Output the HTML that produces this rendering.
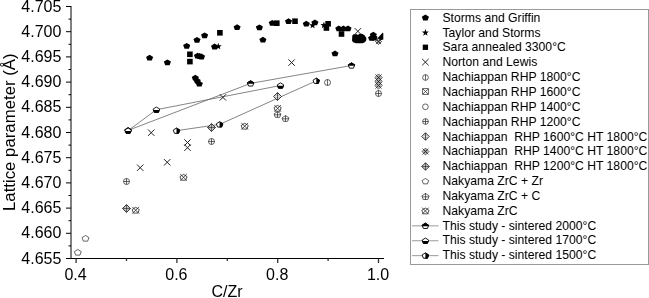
<!DOCTYPE html>
<html><head><meta charset="utf-8"><style>
html,body{margin:0;padding:0;background:#fff;}
svg{display:block;font-family:"Liberation Sans", sans-serif;filter:grayscale(1);}
</style></head><body>
<svg width="649" height="298" viewBox="0 0 649 298">
<path d="M71,6V258" stroke="#000" stroke-width="1" fill="none"/><path d="M66,258.5H384" stroke="#000" stroke-width="1" fill="none"/><path d="M66,6.50H71" stroke="#000" stroke-width="1"/><path d="M68.5,19.10H71" stroke="#000" stroke-width="1"/><path d="M66,31.70H71" stroke="#000" stroke-width="1"/><path d="M68.5,44.30H71" stroke="#000" stroke-width="1"/><path d="M66,56.90H71" stroke="#000" stroke-width="1"/><path d="M68.5,69.50H71" stroke="#000" stroke-width="1"/><path d="M66,82.10H71" stroke="#000" stroke-width="1"/><path d="M68.5,94.70H71" stroke="#000" stroke-width="1"/><path d="M66,107.30H71" stroke="#000" stroke-width="1"/><path d="M68.5,119.90H71" stroke="#000" stroke-width="1"/><path d="M66,132.50H71" stroke="#000" stroke-width="1"/><path d="M68.5,145.10H71" stroke="#000" stroke-width="1"/><path d="M66,157.70H71" stroke="#000" stroke-width="1"/><path d="M68.5,170.30H71" stroke="#000" stroke-width="1"/><path d="M66,182.90H71" stroke="#000" stroke-width="1"/><path d="M68.5,195.50H71" stroke="#000" stroke-width="1"/><path d="M66,208.10H71" stroke="#000" stroke-width="1"/><path d="M68.5,220.70H71" stroke="#000" stroke-width="1"/><path d="M66,233.30H71" stroke="#000" stroke-width="1"/><path d="M68.5,245.90H71" stroke="#000" stroke-width="1"/><path d="M66,258.50H71" stroke="#000" stroke-width="1"/><text x="61.4" y="11.50" text-anchor="end" font-size="16">4.705</text><text x="61.4" y="36.70" text-anchor="end" font-size="16">4.700</text><text x="61.4" y="61.90" text-anchor="end" font-size="16">4.695</text><text x="61.4" y="87.10" text-anchor="end" font-size="16">4.690</text><text x="61.4" y="112.30" text-anchor="end" font-size="16">4.685</text><text x="61.4" y="137.50" text-anchor="end" font-size="16">4.680</text><text x="61.4" y="162.70" text-anchor="end" font-size="16">4.675</text><text x="61.4" y="187.90" text-anchor="end" font-size="16">4.670</text><text x="61.4" y="213.10" text-anchor="end" font-size="16">4.665</text><text x="61.4" y="238.30" text-anchor="end" font-size="16">4.660</text><text x="61.4" y="263.50" text-anchor="end" font-size="16">4.655</text><path d="M76.10,258.5V263" stroke="#333" stroke-width="1.3"/><text x="75.60" y="279.5" text-anchor="middle" font-size="16">0.4</text><path d="M126.50,258.5V261" stroke="#333" stroke-width="1.3"/><path d="M176.90,258.5V263" stroke="#333" stroke-width="1.3"/><text x="176.40" y="279.5" text-anchor="middle" font-size="16">0.6</text><path d="M227.30,258.5V261" stroke="#333" stroke-width="1.3"/><path d="M277.70,258.5V263" stroke="#333" stroke-width="1.3"/><text x="277.20" y="279.5" text-anchor="middle" font-size="16">0.8</text><path d="M328.10,258.5V261" stroke="#333" stroke-width="1.3"/><path d="M378.50,258.5V263" stroke="#333" stroke-width="1.3"/><text x="378.00" y="279.5" text-anchor="middle" font-size="16">1.0</text><text x="227" y="297" text-anchor="middle" font-size="16">C/Zr</text><text transform="translate(14.6,132.2) rotate(-90)" text-anchor="middle" font-size="16.8">Lattice parameter (Å)</text><path d="M128.10,130.40L250.60,83.40L351.50,65.50" stroke="#666" stroke-width="0.8" fill="none"/><path d="M128.10,130.60L156.40,109.70L280.50,85.50" stroke="#666" stroke-width="0.8" fill="none"/><path d="M176.50,130.70L219.60,124.40L316.30,80.80" stroke="#666" stroke-width="0.8" fill="none"/><polygon points="377.2,38.6 382.6,32.8 383.3,33 383.3,39.4 380,40.5" fill="#000"/><polygon points="149.60,54.69 153.16,56.91 151.80,60.51 147.40,60.51 146.04,56.91" fill="#000"/><polygon points="167.40,59.39 170.96,61.61 169.60,65.21 165.20,65.21 163.84,61.61" fill="#000"/><polygon points="186.70,42.89 190.26,45.11 188.90,48.71 184.50,48.71 183.14,45.11" fill="#000"/><polygon points="197.00,36.89 200.56,39.11 199.20,42.71 194.80,42.71 193.44,39.11" fill="#000"/><polygon points="204.60,32.39 208.16,34.61 206.80,38.21 202.40,38.21 201.04,34.61" fill="#000"/><polygon points="197.50,52.69 201.06,54.91 199.70,58.51 195.30,58.51 193.94,54.91" fill="#000"/><polygon points="199.50,53.09 203.06,55.31 201.70,58.91 197.30,58.91 195.94,55.31" fill="#000"/><polygon points="201.50,53.59 205.06,55.81 203.70,59.41 199.30,59.41 197.94,55.81" fill="#000"/><polygon points="195.30,74.69 198.86,76.91 197.50,80.51 193.10,80.51 191.74,76.91" fill="#000"/><polygon points="197.20,77.69 200.76,79.91 199.40,83.51 195.00,83.51 193.64,79.91" fill="#000"/><polygon points="199.30,80.69 202.86,82.91 201.50,86.51 197.10,86.51 195.74,82.91" fill="#000"/><polygon points="214.60,43.59 218.16,45.81 216.80,49.41 212.40,49.41 211.04,45.81" fill="#000"/><polygon points="237.10,24.29 240.66,26.51 239.30,30.11 234.90,30.11 233.54,26.51" fill="#000"/><polygon points="259.40,24.39 262.96,26.61 261.60,30.21 257.20,30.21 255.84,26.61" fill="#000"/><polygon points="262.90,36.69 266.46,38.91 265.10,42.51 260.70,42.51 259.34,38.91" fill="#000"/><polygon points="272.30,19.89 275.86,22.11 274.50,25.71 270.10,25.71 268.74,22.11" fill="#000"/><polygon points="288.50,18.29 292.06,20.51 290.70,24.11 286.30,24.11 284.94,20.51" fill="#000"/><polygon points="306.30,20.69 309.86,22.91 308.50,26.51 304.10,26.51 302.74,22.91" fill="#000"/><polygon points="314.90,19.49 318.46,21.71 317.10,25.31 312.70,25.31 311.34,21.71" fill="#000"/><polygon points="335.00,50.49 338.56,52.71 337.20,56.31 332.80,56.31 331.44,52.71" fill="#000"/><polygon points="338.80,25.49 342.36,27.71 341.00,31.31 336.60,31.31 335.24,27.71" fill="#000"/><polygon points="343.40,25.49 346.96,27.71 345.60,31.31 341.20,31.31 339.84,27.71" fill="#000"/><polygon points="348.00,25.49 351.56,27.71 350.20,31.31 345.80,31.31 344.44,27.71" fill="#000"/><polygon points="373.30,31.69 376.86,33.91 375.50,37.51 371.10,37.51 369.74,33.91" fill="#000"/><polygon points="371.60,34.99 375.16,37.21 373.80,40.81 369.40,40.81 368.04,37.21" fill="#000"/><polygon points="374.00,34.59 377.56,36.81 376.20,40.41 371.80,40.41 370.44,36.81" fill="#000"/><polygon points="218.30,42.84 219.18,45.23 221.72,45.33 219.73,46.91 220.42,49.36 218.30,47.94 216.18,49.36 216.87,46.91 214.88,45.33 217.42,45.23" fill="#000"/><polygon points="312.60,21.84 313.48,24.23 316.02,24.33 314.03,25.91 314.72,28.36 312.60,26.94 310.48,28.36 311.17,25.91 309.18,24.33 311.72,24.23" fill="#000"/><polygon points="323.90,21.64 324.78,24.03 327.32,24.13 325.33,25.71 326.02,28.16 323.90,26.74 321.78,28.16 322.47,25.71 320.48,24.13 323.02,24.03" fill="#000"/><rect x="187.10" y="51.50" width="5.60" height="5.60" fill="#000"/><rect x="187.10" y="58.80" width="5.60" height="5.60" fill="#000"/><rect x="217.10" y="30.00" width="5.60" height="5.60" fill="#000"/><rect x="274.00" y="20.40" width="5.60" height="5.60" fill="#000"/><rect x="292.20" y="18.40" width="5.60" height="5.60" fill="#000"/><rect x="325.30" y="21.00" width="5.60" height="5.60" fill="#000"/><rect x="323.60" y="25.20" width="5.60" height="5.60" fill="#000"/><rect x="338.70" y="31.20" width="5.60" height="5.60" fill="#000"/><path d="M148.00,129.50L154.40,135.90M154.40,129.50L148.00,135.90" stroke="#222" stroke-width="1.0" fill="none"/><path d="M137.00,164.50L143.40,170.90M143.40,164.50L137.00,170.90" stroke="#222" stroke-width="1.0" fill="none"/><path d="M164.00,159.10L170.40,165.50M170.40,159.10L164.00,165.50" stroke="#222" stroke-width="1.0" fill="none"/><path d="M184.30,139.30L190.70,145.70M190.70,139.30L184.30,145.70" stroke="#222" stroke-width="1.0" fill="none"/><path d="M184.30,144.50L190.70,150.90M190.70,144.50L184.30,150.90" stroke="#222" stroke-width="1.0" fill="none"/><path d="M219.70,94.20L226.10,100.60M226.10,94.20L219.70,100.60" stroke="#222" stroke-width="1.0" fill="none"/><path d="M288.40,59.40L294.80,65.80M294.80,59.40L288.40,65.80" stroke="#222" stroke-width="1.0" fill="none"/><path d="M354.70,28.10L361.10,34.50M361.10,28.10L354.70,34.50" stroke="#222" stroke-width="1.0" fill="none"/><polygon points="352.3,35.5 353.5,34.2 357,34.2 358,35 359,34 362,33.8 364.5,35.3 366.4,38 366.2,40.6 364.8,42.2 362.5,43.3 356,43.3 353,42.2 352,40.5" fill="#000"/><circle cx="327.50" cy="82.50" r="3.00" fill="#fff" stroke="#222" stroke-width="0.7"/><path d="M327.50,79.50V85.50" stroke="#222" stroke-width="0.7"/><circle cx="126.50" cy="181.50" r="3.00" fill="#fff" stroke="#222" stroke-width="0.7"/><path d="M126.50,178.50V184.50M123.50,181.50H129.50" stroke="#222" stroke-width="0.7"/><circle cx="211.50" cy="141.50" r="3.00" fill="#fff" stroke="#222" stroke-width="0.7"/><path d="M211.50,138.50V144.50M208.50,141.50H214.50" stroke="#222" stroke-width="0.7"/><circle cx="378.50" cy="93.50" r="3.00" fill="#fff" stroke="#222" stroke-width="0.7"/><path d="M378.50,90.50V96.50M375.50,93.50H381.50" stroke="#222" stroke-width="0.7"/><polygon points="277.50,92.60 281.40,96.50 277.50,100.40 273.60,96.50" fill="#fff" stroke="#111" stroke-width="0.9"/><path d="M277.50,92.60V100.40" stroke="#222" stroke-width="0.8"/><circle cx="277.50" cy="96.50" r="1.75" fill="none" stroke="#666" stroke-width="0.5"/><polygon points="378.50,73.90 382.10,77.50 378.50,81.10 374.90,77.50" fill="#fff" stroke="#222" stroke-width="0.8"/><path d="M375.44,74.44L381.56,80.56M381.56,74.44L375.44,80.56" stroke="#222" stroke-width="0.8"/><circle cx="378.50" cy="77.50" r="1.50" fill="none" stroke="#222" stroke-width="0.8"/><polygon points="378.50,77.90 382.10,81.50 378.50,85.10 374.90,81.50" fill="#fff" stroke="#222" stroke-width="0.8"/><path d="M375.44,78.44L381.56,84.56M381.56,78.44L375.44,84.56" stroke="#222" stroke-width="0.8"/><circle cx="378.50" cy="81.50" r="1.50" fill="none" stroke="#222" stroke-width="0.8"/><polygon points="378.50,81.90 382.10,85.50 378.50,89.10 374.90,85.50" fill="#fff" stroke="#222" stroke-width="0.8"/><path d="M375.44,82.44L381.56,88.56M381.56,82.44L375.44,88.56" stroke="#222" stroke-width="0.8"/><circle cx="378.50" cy="85.50" r="1.50" fill="none" stroke="#222" stroke-width="0.8"/><polygon points="378.50,38.44 381.56,41.50 378.50,44.56 375.44,41.50" fill="#fff" stroke="#222" stroke-width="0.8"/><path d="M375.90,38.90L381.10,44.10M381.10,38.90L375.90,44.10" stroke="#222" stroke-width="0.8"/><circle cx="378.50" cy="41.50" r="1.27" fill="none" stroke="#222" stroke-width="0.8"/><polygon points="126.50,204.60 130.40,208.50 126.50,212.40 122.60,208.50" fill="#fff" stroke="#111" stroke-width="0.9"/><path d="M126.50,204.60V212.40M122.60,208.50H130.40" stroke="#222" stroke-width="0.7"/><circle cx="126.50" cy="208.50" r="1.95" fill="none" stroke="#555" stroke-width="0.5"/><polygon points="211.50,123.60 215.40,127.50 211.50,131.40 207.60,127.50" fill="#fff" stroke="#111" stroke-width="0.9"/><path d="M211.50,123.60V131.40M207.60,127.50H215.40" stroke="#222" stroke-width="0.7"/><circle cx="211.50" cy="127.50" r="1.95" fill="none" stroke="#555" stroke-width="0.5"/><polygon points="77.80,249.47 81.26,251.63 79.94,255.13 75.66,255.13 74.34,251.63" fill="#fff" stroke="#222" stroke-width="0.7"/><polygon points="85.50,235.47 88.96,237.63 87.64,241.13 83.36,241.13 82.04,237.63" fill="#fff" stroke="#222" stroke-width="0.7"/><polygon points="277.50,111.67 280.96,113.83 279.64,117.33 275.36,117.33 274.04,113.83" fill="#fff" stroke="#222" stroke-width="0.7"/><path d="M277.50,111.42V117.58M274.27,114.82H280.73" stroke="#222" stroke-width="0.7"/><polygon points="285.50,115.67 288.96,117.83 287.64,121.33 283.36,121.33 282.04,117.83" fill="#fff" stroke="#222" stroke-width="0.7"/><path d="M285.50,115.42V121.58M282.27,118.82H288.73" stroke="#222" stroke-width="0.7"/><polygon points="135.70,207.29 139.26,209.51 137.90,213.11 133.50,213.11 132.14,209.51" fill="#fff" stroke="#222" stroke-width="0.8"/><path d="M132.40,206.90L139.00,213.50M139.00,206.90L132.40,213.50" stroke="#222" stroke-width="0.8"/><polygon points="183.50,174.39 187.06,176.61 185.70,180.21 181.30,180.21 179.94,176.61" fill="#fff" stroke="#222" stroke-width="0.8"/><path d="M180.20,174.00L186.80,180.60M186.80,174.00L180.20,180.60" stroke="#222" stroke-width="0.8"/><polygon points="244.70,123.29 248.26,125.51 246.90,129.11 242.50,129.11 241.14,125.51" fill="#fff" stroke="#222" stroke-width="0.8"/><path d="M241.40,122.90L248.00,129.50M248.00,122.90L241.40,129.50" stroke="#222" stroke-width="0.8"/><polygon points="277.60,105.39 281.16,107.61 279.80,111.21 275.40,111.21 274.04,107.61" fill="#fff" stroke="#222" stroke-width="0.8"/><path d="M274.30,105.00L280.90,111.60M280.90,105.00L274.30,111.60" stroke="#222" stroke-width="0.8"/><clipPath id="c59409501"><rect x="123.90" y="126.51" width="8.40" height="4.20"/></clipPath><polygon points="128.10,127.74 131.36,129.77 130.11,133.06 126.09,133.06 124.84,129.77" fill="#fff" stroke="#000" stroke-width="0.9"/><polygon points="128.10,127.74 131.36,129.77 130.11,133.06 126.09,133.06 124.84,129.77" fill="#000" stroke="#000" stroke-width="0.9" clip-path="url(#c59409501)"/><clipPath id="c9333692"><rect x="246.40" y="79.51" width="8.40" height="4.20"/></clipPath><polygon points="250.60,80.74 253.86,82.77 252.61,86.06 248.59,86.06 247.34,82.77" fill="#fff" stroke="#000" stroke-width="0.9"/><polygon points="250.60,80.74 253.86,82.77 252.61,86.06 248.59,86.06 247.34,82.77" fill="#000" stroke="#000" stroke-width="0.9" clip-path="url(#c9333692)"/><clipPath id="c74591533"><rect x="347.30" y="61.61" width="8.40" height="4.20"/></clipPath><polygon points="351.50,62.84 354.76,64.87 353.51,68.16 349.49,68.16 348.24,64.87" fill="#fff" stroke="#000" stroke-width="0.9"/><polygon points="351.50,62.84 354.76,64.87 353.51,68.16 349.49,68.16 348.24,64.87" fill="#000" stroke="#000" stroke-width="0.9" clip-path="url(#c74591533)"/><clipPath id="c42825361"><rect x="123.90" y="130.91" width="8.40" height="4.20"/></clipPath><polygon points="128.10,127.94 131.36,129.97 130.11,133.26 126.09,133.26 124.84,129.97" fill="#fff" stroke="#000" stroke-width="0.9"/><polygon points="128.10,127.94 131.36,129.97 130.11,133.26 126.09,133.26 124.84,129.97" fill="#000" stroke="#000" stroke-width="0.9" clip-path="url(#c42825361)"/><clipPath id="c98116428"><rect x="152.20" y="110.01" width="8.40" height="4.20"/></clipPath><polygon points="156.40,107.04 159.66,109.07 158.41,112.36 154.39,112.36 153.14,109.07" fill="#fff" stroke="#000" stroke-width="0.9"/><polygon points="156.40,107.04 159.66,109.07 158.41,112.36 154.39,112.36 153.14,109.07" fill="#000" stroke="#000" stroke-width="0.9" clip-path="url(#c98116428)"/><clipPath id="c39738021"><rect x="276.30" y="85.81" width="8.40" height="4.20"/></clipPath><polygon points="280.50,82.84 283.76,84.87 282.51,88.16 278.49,88.16 277.24,84.87" fill="#fff" stroke="#000" stroke-width="0.9"/><polygon points="280.50,82.84 283.76,84.87 282.51,88.16 278.49,88.16 277.24,84.87" fill="#000" stroke="#000" stroke-width="0.9" clip-path="url(#c39738021)"/><clipPath id="c77874934"><rect x="176.50" y="126.81" width="4.20" height="8.40"/></clipPath><polygon points="176.50,128.04 179.76,130.07 178.51,133.36 174.49,133.36 173.24,130.07" fill="#fff" stroke="#000" stroke-width="0.9"/><polygon points="176.50,128.04 179.76,130.07 178.51,133.36 174.49,133.36 173.24,130.07" fill="#000" stroke="#000" stroke-width="0.9" clip-path="url(#c77874934)"/><clipPath id="c64182487"><rect x="219.60" y="120.51" width="4.20" height="8.40"/></clipPath><polygon points="219.60,121.74 222.86,123.77 221.61,127.06 217.59,127.06 216.34,123.77" fill="#fff" stroke="#000" stroke-width="0.9"/><polygon points="219.60,121.74 222.86,123.77 221.61,127.06 217.59,127.06 216.34,123.77" fill="#000" stroke="#000" stroke-width="0.9" clip-path="url(#c64182487)"/><clipPath id="c89627975"><rect x="316.30" y="76.91" width="4.20" height="8.40"/></clipPath><polygon points="316.30,78.14 319.56,80.17 318.31,83.46 314.29,83.46 313.04,80.17" fill="#fff" stroke="#000" stroke-width="0.9"/><polygon points="316.30,78.14 319.56,80.17 318.31,83.46 314.29,83.46 313.04,80.17" fill="#000" stroke="#000" stroke-width="0.9" clip-path="url(#c89627975)"/><rect x="410.5" y="9.5" width="238" height="255" fill="#fff" stroke="#999" stroke-width="1"/><polygon points="425.40,14.59 428.96,16.81 427.60,20.41 423.20,20.41 421.84,16.81" fill="#000"/><text x="442.5" y="21.80" font-size="12.18" xml:space="preserve">Storms and Griffin</text><polygon points="425.40,29.12 426.28,31.51 428.82,31.61 426.83,33.19 427.52,35.64 425.40,34.22 423.28,35.64 423.97,33.19 421.98,31.61 424.52,31.51" fill="#000"/><text x="442.5" y="36.64" font-size="12.18" xml:space="preserve">Taylor and Storms</text><rect x="422.74" y="44.60" width="5.32" height="5.32" fill="#000"/><text x="442.5" y="51.48" font-size="12.18" xml:space="preserve">Sara annealed 3300°C</text><path d="M422.20,58.94L428.60,65.34M428.60,58.94L422.20,65.34" stroke="#222" stroke-width="1.0" fill="none"/><text x="442.5" y="66.32" font-size="12.18" xml:space="preserve">Norton and Lewis</text><circle cx="425.50" cy="77.50" r="2.85" fill="#fff" stroke="#222" stroke-width="0.7"/><path d="M425.50,74.65V80.35" stroke="#222" stroke-width="0.7"/><text x="442.5" y="81.16" font-size="12.18" xml:space="preserve">Nachiappan RHP 1800°C</text><rect x="422.70" y="88.70" width="5.60" height="5.60" fill="#fff" stroke="#222" stroke-width="0.7"/><path d="M422.70,88.70L428.30,94.30M428.30,88.70L422.70,94.30" stroke="#222" stroke-width="0.7"/><text x="442.5" y="96.00" font-size="12.18" xml:space="preserve">Nachiappan RHP 1600°C</text><circle cx="425.40" cy="106.78" r="2.85" fill="#fff" stroke="#222" stroke-width="0.7"/><text x="442.5" y="110.84" font-size="12.18" xml:space="preserve">Nachiappan RHP 1400°C</text><circle cx="425.50" cy="121.50" r="2.85" fill="#fff" stroke="#222" stroke-width="0.7"/><path d="M425.50,118.65V124.35M422.65,121.50H428.35" stroke="#222" stroke-width="0.7"/><text x="442.5" y="125.68" font-size="12.18" xml:space="preserve">Nachiappan RHP 1200°C</text><polygon points="425.50,132.79 429.20,136.50 425.50,140.21 421.80,136.50" fill="#fff" stroke="#111" stroke-width="0.9"/><path d="M425.50,132.79V140.21" stroke="#222" stroke-width="0.8"/><circle cx="425.50" cy="136.50" r="1.67" fill="none" stroke="#666" stroke-width="0.5"/><text x="442.5" y="140.52" font-size="12.18" xml:space="preserve">Nachiappan  RHP 1600°C HT 1800°C</text><polygon points="425.50,148.08 428.92,151.50 425.50,154.92 422.08,151.50" fill="#fff" stroke="#222" stroke-width="0.8"/><path d="M422.59,148.59L428.41,154.41M428.41,148.59L422.59,154.41" stroke="#222" stroke-width="0.8"/><circle cx="425.50" cy="151.50" r="1.42" fill="none" stroke="#222" stroke-width="0.8"/><text x="442.5" y="155.36" font-size="12.18" xml:space="preserve">Nachiappan  RHP 1400°C HT 1800°C</text><polygon points="425.50,162.79 429.20,166.50 425.50,170.21 421.80,166.50" fill="#fff" stroke="#111" stroke-width="0.9"/><path d="M425.50,162.79V170.21M421.80,166.50H429.20" stroke="#222" stroke-width="0.7"/><circle cx="425.50" cy="166.50" r="1.85" fill="none" stroke="#555" stroke-width="0.5"/><text x="442.5" y="170.20" font-size="12.18" xml:space="preserve">Nachiappan  RHP 1200°C HT 1800°C</text><polygon points="425.40,178.49 428.69,180.55 427.43,183.87 423.37,183.87 422.11,180.55" fill="#fff" stroke="#222" stroke-width="0.7"/><text x="442.5" y="185.04" font-size="12.18" xml:space="preserve">Nakyama ZrC + Zr</text><polygon points="425.50,193.53 429.13,195.80 427.75,199.47 423.25,199.47 421.87,195.80" fill="#fff" stroke="#222" stroke-width="0.7"/><path d="M425.50,193.27V199.73M422.11,196.84H428.89" stroke="#222" stroke-width="0.7"/><text x="442.5" y="199.88" font-size="12.18" xml:space="preserve">Nakyama ZrC + C</text><polygon points="425.40,208.03 428.96,210.25 427.60,213.85 423.20,213.85 421.84,210.25" fill="#fff" stroke="#222" stroke-width="0.8"/><path d="M422.10,207.64L428.70,214.24M428.70,207.64L422.10,214.24" stroke="#222" stroke-width="0.8"/><text x="442.5" y="214.72" font-size="12.18" xml:space="preserve">Nakyama ZrC</text><path d="M412,225.82H438.5" stroke="#aaa" stroke-width="1.2"/><clipPath id="c55633300"><rect x="421.20" y="221.93" width="8.40" height="4.20"/></clipPath><polygon points="425.40,223.16 428.66,225.19 427.41,228.48 423.39,228.48 422.14,225.19" fill="#fff" stroke="#000" stroke-width="0.9"/><polygon points="425.40,223.16 428.66,225.19 427.41,228.48 423.39,228.48 422.14,225.19" fill="#000" stroke="#000" stroke-width="0.9" clip-path="url(#c55633300)"/><text x="442.5" y="229.56" font-size="12.18" xml:space="preserve">This study - sintered 2000°C</text><path d="M412,240.70H438.5" stroke="#aaa" stroke-width="1.2"/><clipPath id="c61686606"><rect x="421.20" y="241.01" width="8.40" height="4.20"/></clipPath><polygon points="425.40,238.04 428.66,240.07 427.41,243.36 423.39,243.36 422.14,240.07" fill="#fff" stroke="#000" stroke-width="0.9"/><polygon points="425.40,238.04 428.66,240.07 427.41,243.36 423.39,243.36 422.14,240.07" fill="#000" stroke="#000" stroke-width="0.9" clip-path="url(#c61686606)"/><text x="442.5" y="244.40" font-size="12.18" xml:space="preserve">This study - sintered 1700°C</text><path d="M412,255.58H438.5" stroke="#aaa" stroke-width="1.2"/><clipPath id="c87600926"><rect x="425.40" y="251.69" width="4.20" height="8.40"/></clipPath><polygon points="425.40,252.92 428.66,254.95 427.41,258.24 423.39,258.24 422.14,254.95" fill="#fff" stroke="#000" stroke-width="0.9"/><polygon points="425.40,252.92 428.66,254.95 427.41,258.24 423.39,258.24 422.14,254.95" fill="#000" stroke="#000" stroke-width="0.9" clip-path="url(#c87600926)"/><text x="442.5" y="259.24" font-size="12.18" xml:space="preserve">This study - sintered 1500°C</text>
</svg></body></html>
